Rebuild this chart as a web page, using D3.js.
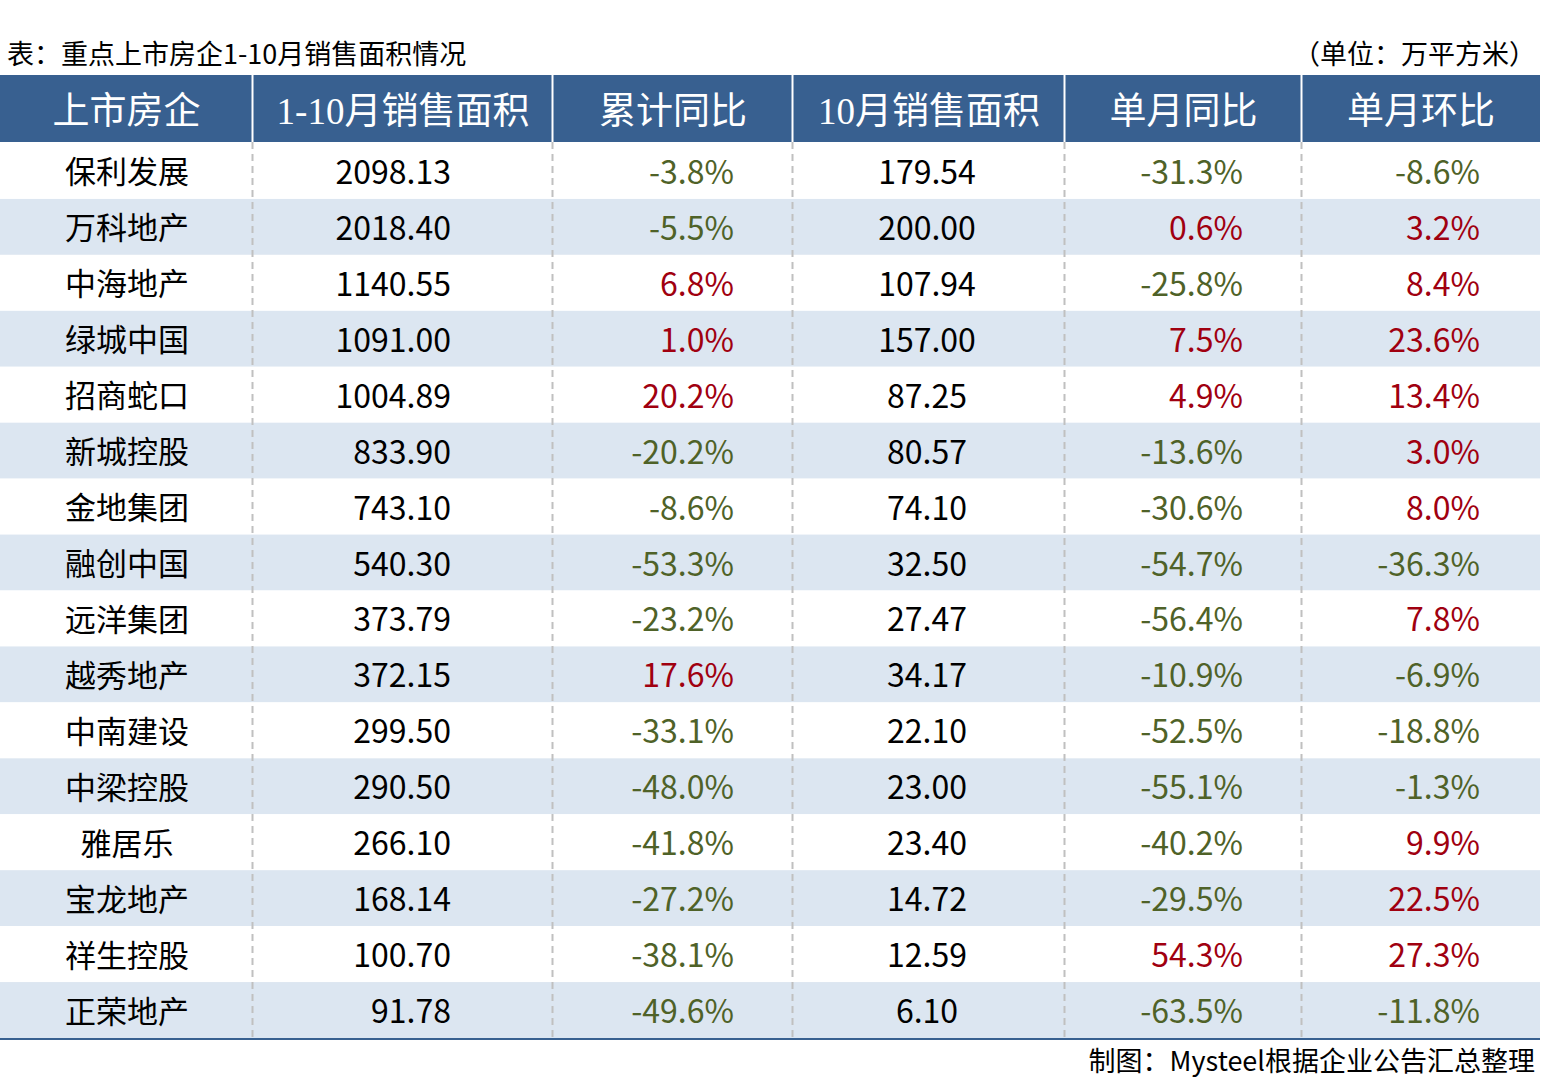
<!DOCTYPE html>
<html lang="zh">
<head>
<meta charset="utf-8">
<title>重点上市房企1-10月销售面积情况</title>
<script src="https://d3js.org/d3.v7.min.js"></script>
<style>
  body { margin: 0; background: #fff; }
  text { font-family: "Noto Sans CJK SC", "Noto Sans", sans-serif; }
  .hd { font-family: "Liberation Serif", "DejaVu Serif", "Noto Sans CJK SC", serif; }
</style>
</head>
<body>
<script>
var headers = ["上市房企", "1-10月销售面积", "累计同比", "10月销售面积", "单月同比", "单月环比"];
var companies = ["保利发展", "万科地产", "中海地产", "绿城中国", "招商蛇口", "新城控股", "金地集团", "融创中国",
  "远洋集团", "越秀地产", "中南建设", "中梁控股", "雅居乐", "宝龙地产", "祥生控股", "正荣地产"];
var ytdArea = ["2098.13", "2018.40", "1140.55", "1091.00", "1004.89", "833.90", "743.10", "540.30",
  "373.79", "372.15", "299.50", "290.50", "266.10", "168.14", "100.70", "91.78"];
var ytdYoy = [-3.8, -5.5, 6.8, 1.0, 20.2, -20.2, -8.6, -53.3, -23.2, 17.6, -33.1, -48.0, -41.8, -27.2, -38.1, -49.6];
var octArea = ["179.54", "200.00", "107.94", "157.00", "87.25", "80.57", "74.10", "32.50",
  "27.47", "34.17", "22.10", "23.00", "23.40", "14.72", "12.59", "6.10"];
var monthYoy = [-31.3, 0.6, -25.8, 7.5, 4.9, -13.6, -30.6, -54.7, -56.4, -10.9, -52.5, -55.1, -40.2, -29.5, 54.3, -63.5];
var monthMom = [-8.6, 3.2, 8.4, 23.6, 13.4, 3.0, 8.0, -36.3, 7.8, -6.9, -18.8, -1.3, 9.9, 22.5, 27.3, -11.8];

var W = 1541, H = 1083;
var colEdges = [0, 253, 553, 793, 1065, 1302, 1540];
var headTop = 75, headBot = 142, tableBot = 1038;

var svg = d3.select("body").append("svg").attr("width", W).attr("height", H);

var y = d3.scaleBand().domain(d3.range(companies.length)).range([143, tableBot]).padding(0);

// header
svg.append("rect").attr("x", 0).attr("y", headTop).attr("width", 1540).attr("height", headBot - headTop).attr("fill", "#386090");
headers.forEach(function(h, i) {
  svg.append("text").attr("class", "hd")
    .attr("x", (colEdges[i] + colEdges[i + 1]) / 2)
    .attr("y", (headTop + headBot) / 2 + 3)
    .attr("text-anchor", "middle").attr("dominant-baseline", "central")
    .attr("fill", "#fff").attr("font-size", 37).text(h);
  if (i > 0) {
    svg.append("line").attr("x1", colEdges[i] - 0.5).attr("x2", colEdges[i] - 0.5)
      .attr("y1", headTop).attr("y2", headBot).attr("stroke", "#fff").attr("stroke-width", 2);
  }
});

// row backgrounds
svg.selectAll("rect.row").data(companies).enter().append("rect")
  .attr("class", "row").attr("x", 0).attr("width", 1540)
  .attr("y", function(d, i) { return y(i); }).attr("height", y.bandwidth())
  .attr("fill", function(d, i) { return i % 2 ? "#dce6f1" : "#fff"; });

// dashed column dividers
colEdges.slice(1, 6).forEach(function(x) {
  svg.append("line").attr("x1", x - 0.5).attr("x2", x - 0.5).attr("y1", headBot).attr("y2", tableBot)
    .attr("stroke", "#c0c0c0").attr("stroke-width", 2).attr("stroke-dasharray", "7,5");
});

// bottom border
svg.append("line").attr("x1", 0).attr("x2", 1540).attr("y1", tableBot + 1).attr("y2", tableBot + 1)
  .attr("stroke", "#386090").attr("stroke-width", 2);

var green = "#4f6228", red = "#a00010";
function pct(v) { return v.toFixed(1) + "%"; }
function pctColor(v) { return v < 0 ? green : red; }
function black() { return "#000"; }

var columns = [
  { vals: companies, x: 127, anchor: "middle", size: 31, color: black, fmt: String },
  { vals: ytdArea, x: 451, anchor: "end", size: 32, color: black, fmt: String },
  { vals: ytdYoy, x: 734, anchor: "end", size: 32, color: pctColor, fmt: pct },
  { vals: octArea, x: 927, anchor: "middle", size: 32, color: black, fmt: String },
  { vals: monthYoy, x: 1243, anchor: "end", size: 32, color: pctColor, fmt: pct },
  { vals: monthMom, x: 1480, anchor: "end", size: 32, color: pctColor, fmt: pct }
];

columns.forEach(function(c) {
  svg.append("g").selectAll("text").data(c.vals).enter().append("text")
    .attr("x", c.x)
    .attr("y", function(d, i) { return y(i) + y.bandwidth() / 2 - 1; })
    .attr("text-anchor", c.anchor).attr("dominant-baseline", "central")
    .attr("font-size", c.size).attr("fill", function(d) { return c.color(d); })
    .text(function(d) { return c.fmt(d); });
});

// title, unit, source
svg.append("text").attr("x", 7).attr("y", 52).attr("dominant-baseline", "central")
  .attr("font-size", 27).attr("fill", "#000").text("表：重点上市房企1-10月销售面积情况");
svg.append("text").attr("x", 1536).attr("y", 52).attr("text-anchor", "end").attr("dominant-baseline", "central")
  .attr("font-size", 27).attr("fill", "#000").text("（单位：万平方米）");
svg.append("text").attr("x", 1535).attr("y", 1059).attr("text-anchor", "end").attr("dominant-baseline", "central")
  .attr("font-size", 27).attr("fill", "#000").text("制图：Mysteel根据企业公告汇总整理");
</script>
</body>
</html>
